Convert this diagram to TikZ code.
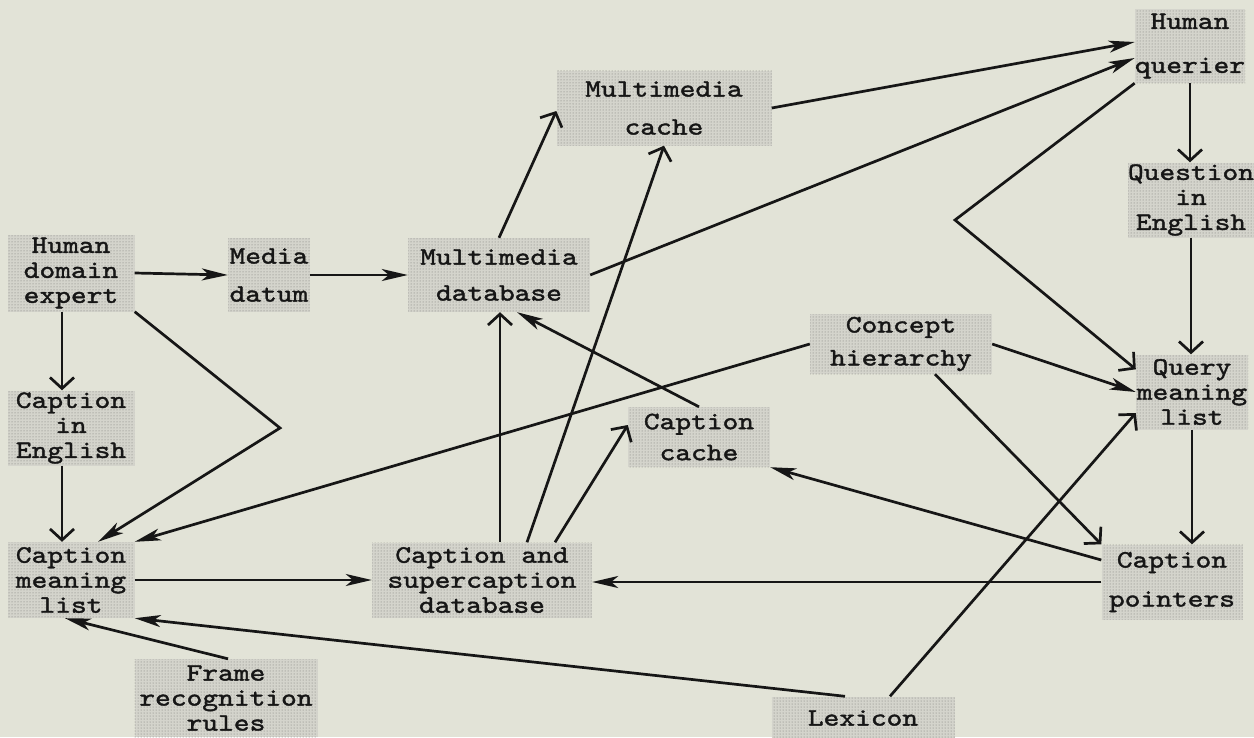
\documentclass[tikz,border=0pt]{standalone}
\usepackage{fontspec}
\newfontfamily\boxtt{lmmono10-regular.otf}[FakeBold=1.6,FakeStretch=1.2]
\usetikzlibrary{arrows.meta,calc,patterns}
\definecolor{bg}{RGB}{226,227,215}
\definecolor{boxfill}{RGB}{212,212,204}
\definecolor{dotcol}{RGB}{120,120,115}
\definecolor{ink}{RGB}{22,22,22}
\newcommand\bxf[1]{\fontsize{25pt}{#1}\selectfont\boxtt}
\begin{document}
\begin{tikzpicture}[x=1pt,y=-1pt,
  box/.style={fill=boxfill, postaction={pattern=dots, pattern color=dotcol}, inner sep=0pt, align=center, text=ink},
  conn/.style={draw=ink, line width=2.7pt},
  fa/.style={-{Stealth[length=26pt,width=12pt,inset=7pt]}},
  va/.style={-{Straight Barb[length=11pt,width=24pt]}}]
\useasboundingbox (0,0) rectangle (1254,737);
\fill[bg] (0,0) rectangle (1254,737);
\clip (0,0) rectangle (1254,737);
% nodes
\node[box, font=\bxf{25pt}, minimum width=127pt, minimum height=77pt] (hde) at (71,273) {Human\\domain\\expert};
\node[box, font=\bxf{38pt}, minimum width=82pt, minimum height=74pt] (md) at (269,275) {Media\\datum};
\node[box, font=\bxf{36pt}, minimum width=182pt, minimum height=74pt] (mdb) at (499,275) {Multimedia\\database};
\node[box, font=\bxf{38pt}, minimum width=215pt, minimum height=75pt] (mc) at (664,108) {Multimedia\\cache};
\node[box, font=\bxf{44pt}, minimum width=108pt, minimum height=74pt] (hq) at (1190,46) {Human\\querier};
\node[box, font=\bxf{25pt}, minimum width=126pt, minimum height=75pt] (qe) at (1191,200) {Question\\in\\English};
\node[box, font=\bxf{25pt}, minimum width=112pt, minimum height=75pt] (qml) at (1192,392) {Query\\meaning\\list};
\node[box, font=\bxf{33pt}, minimum width=182pt, minimum height=60pt] (ch) at (901,344) {Concept\\hierarchy};
\node[box, font=\bxf{25pt}, minimum width=127pt, minimum height=75pt] (ce) at (71,428) {Caption\\in\\English};
\node[box, font=\bxf{25pt}, minimum width=127pt, minimum height=76pt] (cml) at (71,580) {Caption\\meaning\\list};
\node[box, font=\bxf{25pt}, minimum width=220pt, minimum height=75pt] (csd) at (482,580) {Caption and\\supercaption\\database};
\node[box, font=\bxf{31pt}, minimum width=142pt, minimum height=60pt] (cc) at (699,437) {Caption\\cache};
\node[box, font=\bxf{39pt}, minimum width=141pt, minimum height=75pt] (cp) at (1172,582) {Caption\\pointers};
\node[box, font=\bxf{25pt}, minimum width=183pt, minimum height=78pt] (frr) at (226,698) {Frame\\recognition\\rules};
\node[box, font=\bxf{25pt}, minimum width=183pt, minimum height=43pt] (lex) at (863,718) {Lexicon};
% bend points
\coordinate (b1) at (280,428);
\coordinate (b2) at (955,220);
% connectors
\draw[conn,fa] (hde.east) -- (md.west);
\draw[conn,fa] (md.east) -- (mdb.west);
\draw[conn,va] ([xshift=-9pt]hde.south) -- ([xshift=-9pt]ce.north);
\draw[conn,fa] (hde.south east) -- (b1) -- ([xshift=27pt]cml.north);
\draw[conn,va] ([xshift=-9pt]ce.south) -- ([xshift=-9pt]cml.north);
\draw[conn,fa] (ch.west) -- (cml.north east);
\draw[conn,fa] (cml.east) -- (csd.west);
\draw[conn,fa] ([xshift=-18pt]lex.north) -- (cml.south east);
\draw[conn,fa] ([xshift=2pt]frr.north) -- ([xshift=-6pt]cml.south);
\draw[conn,va] ([xshift=18pt]csd.north) -- ([xshift=1pt]mdb.south);
\draw[conn,va] ([xshift=45pt]csd.north) -- (mc.south);
\draw[conn,va] ([xshift=73pt]csd.north) -- ([yshift=12pt]cc.west);
\draw[conn,fa] (cc.north) -- ([xshift=18pt]mdb.south);
\draw[conn,fa] ([yshift=22pt]cp.west) -- (cc.south east);
\draw[conn,fa] (cp.west) -- (cp.west -| csd.east);
\draw[conn,va] ([xshift=34pt]ch.south) -- (cp.north west);
\draw[conn,fa] (ch.east) -- (qml.west);
\draw[conn,fa] (mdb.east) -- ([yshift=-12pt]hq.west);
\draw[conn,fa] (mc.east) -- ([yshift=4pt]hq.west);
\draw[conn,va] (hq.south west) -- (b2) -- ([yshift=-15pt]qml.north west);
\draw[conn,va] (hq.south) -- (hq.south |- qe.north);
\draw[conn,va] (qe.south) -- (qe.south |- qml.north);
\draw[conn,va] ([xshift=20pt]cp.north |- qml.south) -- ([xshift=20pt]cp.north);
\draw[conn,va] ([xshift=27pt]lex.north) -- ([yshift=-21pt]qml.west);
\draw[conn,va] (mdb.north) -- ([yshift=-3pt]mc.west);
\end{tikzpicture}
\end{document}
